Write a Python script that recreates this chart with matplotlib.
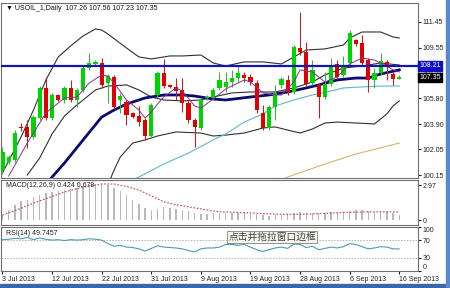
import matplotlib
matplotlib.use('Agg')
import matplotlib.pyplot as plt
from matplotlib.patches import Rectangle
import numpy as np

plt.rcParams['font.family'] = ['Liberation Sans', 'DejaVu Sans']

# daily candles, 3 Jul 2013 .. 16 Sep 2013
opens = [100.52, 101.11, 101.26, 103.70, 103.70, 102.96, 104.36, 106.58, 104.36, 106.06,
         105.69, 106.58, 105.69, 106.43, 108.05, 108.35, 108.42, 106.94, 107.39, 105.69,
         105.54, 104.73, 104.51, 104.21, 103.03, 106.06, 107.68, 106.80, 106.65, 106.43,
         105.47, 104.21, 103.62, 105.84, 105.84, 106.58, 106.65, 107.02, 107.31, 107.54,
         107.39, 106.94, 104.73, 103.62, 105.17, 106.80, 107.17, 106.28, 109.53, 109.23,
         106.94, 106.80, 105.91, 106.87, 108.35, 107.54, 108.42, 110.12, 109.90, 108.64,
         107.17, 107.68, 108.50, 107.61, 107.26]
highs = [102.22, 101.63, 103.47, 103.99, 104.21, 104.58, 106.72, 107.39, 106.21, 106.13,
         106.72, 107.17, 106.58, 108.20, 109.16, 108.64, 108.79, 107.61, 107.54, 106.21,
         105.69, 104.80, 105.25, 104.36, 105.47, 107.83, 108.72, 106.87, 107.31, 107.31,
         105.69, 104.36, 105.84, 106.06, 106.58, 107.76, 107.76, 107.91, 108.27, 107.76,
         107.61, 107.17, 105.32, 105.32, 106.80, 107.39, 107.54, 109.75, 112.19, 109.97,
         108.64, 106.94, 107.76, 108.79, 108.64, 108.94, 110.86, 110.19, 110.49, 108.79,
         108.05, 109.16, 108.64, 107.76, 107.56]
lows = [100.22, 100.96, 101.11, 103.40, 102.14, 102.81, 104.21, 104.21, 104.21, 105.62,
        105.47, 105.54, 105.17, 106.28, 107.91, 108.20, 106.58, 105.47, 105.02, 104.73,
        103.84, 104.36, 103.77, 102.74, 102.96, 105.91, 106.58, 106.58, 105.69, 104.80,
        103.99, 102.22, 103.47, 105.69, 105.69, 106.43, 106.28, 106.65, 107.02, 107.02,
        106.80, 104.73, 103.47, 103.47, 104.21, 106.58, 106.06, 106.13, 109.01, 106.72,
        106.80, 104.36, 105.76, 106.72, 107.24, 107.39, 108.27, 109.68, 108.27, 106.28,
        106.58, 107.54, 107.17, 106.80, 107.23]
closes = [101.85, 101.48, 103.25, 103.62, 102.96, 104.43, 106.58, 104.36, 106.06, 105.69,
          106.58, 105.69, 106.43, 108.05, 108.42, 108.50, 106.80, 107.46, 105.17, 105.98,
          104.58, 104.43, 104.06, 103.03, 105.32, 107.68, 106.72, 106.65, 106.35, 105.47,
          104.21, 103.70, 105.69, 105.91, 106.43, 107.17, 107.02, 107.31, 107.68, 107.31,
          107.02, 104.95, 103.62, 105.17, 106.21, 107.24, 106.28, 109.60, 109.23, 106.87,
          107.91, 105.91, 106.87, 108.13, 107.39, 108.27, 110.64, 109.83, 108.42, 107.17,
          107.68, 108.57, 108.27, 107.24, 107.35]

# indicator lines (bar index, price)
upper_idx = [0, 3, 5, 7, 9, 11, 13, 15, 16, 17, 20, 22, 24, 27, 29, 32, 34, 36, 39, 42,
             45, 47, 49, 52, 55, 56, 58, 61, 63, 64]
upper_val = [100.30, 102.96, 104.95, 107.17, 108.87, 109.68, 110.42, 110.93, 110.86, 110.56,
             109.53, 108.87, 108.72, 108.94, 108.94, 109.01, 108.42, 108.20, 108.50, 108.50,
             108.35, 108.87, 109.38, 109.46, 109.75, 110.27, 110.71, 110.71, 110.34, 110.27]
lower_idx = [17, 18, 19, 21, 23, 25, 28, 32, 34, 36, 39, 42, 44, 46, 48, 50, 52, 54, 57, 60,
             62, 63, 64]
lower_val = [99.41, 100.52, 101.48, 102.51, 102.74, 103.03, 103.33, 103.25, 103.03, 103.10,
             103.25, 103.62, 103.70, 103.47, 103.25, 103.55, 103.99, 104.06, 103.99, 103.92,
             104.66, 105.25, 105.62]
mid_idx = [4, 6, 8, 10, 12, 15, 17, 20, 22, 24, 26, 29, 32, 34, 37, 40, 44, 47, 50, 52,
           55, 58, 61, 64]
mid_val = [100.15, 101.41, 103.18, 104.51, 105.32, 106.43, 106.72, 106.80, 106.43, 105.91,
           105.69, 105.62, 105.69, 105.91, 106.21, 106.28, 106.28, 106.58, 107.02, 107.54,
           108.05, 108.20, 108.42, 108.27]
navy_idx = [7, 8, 10, 13, 16, 18, 20, 23, 26, 29, 31, 34, 36, 40, 43, 46, 49, 51, 54, 57,
            59, 61, 64]
navy_val = [99.48, 100.00, 101.04, 102.74, 104.43, 104.95, 105.39, 105.84, 106.06, 106.06,
            105.98, 105.76, 105.69, 105.91, 106.06, 106.28, 106.58, 106.80, 107.17, 107.31,
            107.31, 107.61, 107.91]
purple_idx = [1, 4, 7, 10, 12, 14, 16, 17, 18, 20, 22, 23, 24, 25, 26, 28, 29, 31, 32, 34,
              36, 39, 40, 42, 44, 45, 47, 48, 50, 52, 54, 56, 58, 60, 62, 63, 64]
purple_val = [100.07, 102.51, 104.73, 105.84, 105.91, 106.94, 107.54, 107.46, 106.94, 105.69,
              104.95, 104.36, 104.80, 105.39, 105.91, 106.58, 106.35, 105.25, 105.10, 105.76,
              106.50, 107.17, 107.02, 106.21, 106.06, 106.06, 107.02, 107.91, 107.76, 107.02,
              107.39, 108.35, 108.79, 108.64, 108.20, 107.91, 107.76]
cyan_idx = [21, 22, 26, 30, 34, 36, 39, 42, 44, 47, 50, 53, 55, 58, 61, 64]
cyan_val = [99.78, 100.00, 100.96, 101.77, 102.74, 103.18, 104.06, 104.66, 105.25, 105.69,
            106.06, 106.35, 106.58, 106.65, 106.72, 106.72]
gold_idx = [45, 46, 52, 57, 64]
gold_val = [99.78, 100.00, 100.96, 101.70, 102.51]
hline_price = 108.21

macd = [0.45, 0.88, 1.30, 1.59, 1.72, 1.93, 2.15, 2.29, 2.38, 2.44,
        2.57, 2.66, 2.72, 2.86, 3.00, 3.08, 3.06, 2.95, 2.72, 2.44,
        2.15, 1.72, 1.36, 1.02, 0.88, 0.96, 1.08, 1.02, 0.96, 0.88,
        0.74, 0.59, 0.51, 0.51, 0.57, 0.62, 0.62, 0.64, 0.62, 0.60,
        0.55, 0.50, 0.42, 0.38, 0.40, 0.45, 0.48, 0.58, 0.65, 0.62,
        0.62, 0.58, 0.60, 0.65, 0.68, 0.72, 0.80, 0.85, 0.82, 0.75,
        0.72, 0.70, 0.68, 0.58, 0.42]
sig_idx = [0, 3, 5, 8, 10, 13, 16, 18, 20, 22, 24, 26, 28, 30, 33, 35, 38, 41, 44, 47,
           50, 53, 56, 59, 62, 64]
sig_val = [0.42, 1.00, 1.44, 2.00, 2.38, 2.80, 3.06, 3.06, 2.85, 2.55, 2.05, 1.55, 1.30,
           1.13, 0.85, 0.70, 0.65, 0.58, 0.50, 0.48, 0.52, 0.60, 0.66, 0.70, 0.70, 0.68]

rsi = [71, 72, 74, 73, 76, 71, 75, 72, 70, 71,
       69, 71, 70, 71, 73, 72, 70, 62, 56, 58,
       54, 53, 50, 45, 51, 57, 54, 53, 52, 50,
       46, 43, 50, 52, 52, 54, 60, 60, 58, 60,
       54, 48, 44, 48, 52, 54, 51, 61, 60, 53,
       56, 48, 51, 54, 52, 55, 62, 60, 55, 50,
       52, 55, 54, 50, 49.75]

price_ticks = [100.15, 102.05, 103.90, 105.80, 107.70, 109.55, 111.45]
date_idx = [0, 8, 16, 24, 32, 40, 48, 56, 64]
date_labels = ['3 Jul 2013', '12 Jul 2013', '22 Jul 2013', '31 Jul 2013', '9 Aug 2013',
               '19 Aug 2013', '28 Aug 2013', '6 Sep 2013', '16 Sep 2013']

W, H = 450, 288
fig = plt.figure(figsize=(4.5, 2.88), dpi=100)


def panel(x0, y0, x1, y1):
    a = fig.add_axes([x0 / W, 1 - y1 / H, (x1 - x0) / W, (y1 - y0) / H])
    a.set_xlim(-0.24, 67.02)
    a.set_xticks([])
    a.yaxis.tick_right()
    a.tick_params(axis='y', length=2, pad=1.5, labelsize=5, colors='#202020')
    for s in a.spines.values():
        s.set_color('#707070')
        s.set_linewidth(0.8)
    return a


# ---- price panel
ax = panel(1, 3, 418, 178)
ax.set_ylim(99.93, 112.85)
o = np.array(opens); c = np.array(closes)
x = np.arange(len(o))
up = c >= o
body_col = np.where(up, '#00d400', '#e00000')
wick_col = np.where(up, '#40b040', '#b02828')
ax.vlines(x, lows, highs, colors=wick_col, lw=0.8, zorder=3)
ax.bar(x, np.maximum(np.abs(c - o), 0.05), bottom=np.minimum(o, c), width=0.7,
       color=body_col, lw=0, zorder=4)

ax.plot(upper_idx, upper_val, color='#303030', lw=0.8, zorder=2)
ax.plot(lower_idx, lower_val, color='#303030', lw=0.8, zorder=2)
ax.plot(mid_idx, mid_val, color='#303030', lw=0.8, zorder=2)
ax.plot(cyan_idx, cyan_val, color='#5cb8cc', lw=0.8, zorder=2)
ax.plot(gold_idx, gold_val, color='#d8b46a', lw=0.8, zorder=2)
ax.plot(navy_idx, navy_val, color='#0a0a70', lw=2.0, zorder=2)
ax.plot(purple_idx, purple_val, color='#8a3090', lw=0.7, zorder=5)
ax.axhline(hline_price, color='#1515b0', lw=1.6, zorder=5)

ax.set_yticks(price_ticks)
ax.set_yticklabels([f'{v:.2f}' for v in price_ticks])
ax.text(1.003, hline_price, f'{hline_price:.2f}', transform=ax.get_yaxis_transform(),
        ha='left', va='center', fontsize=5, color='white', zorder=6,
        bbox=dict(boxstyle='square,pad=0.2', fc='#1010c0', ec='#1010c0'))
ax.text(1.003, closes[-1], f'{closes[-1]:.2f}', transform=ax.get_yaxis_transform(),
        ha='left', va='center', fontsize=5, color='white', zorder=7,
        bbox=dict(boxstyle='square,pad=0.2', fc='black', ec='black'))
ax.text(0.012, 0.966, '▼ USOIL_1,Daily  %.2f %.2f %.2f %.2f'
        % (opens[-1], highs[-1], lows[-1], closes[-1]),
        transform=ax.transAxes, fontsize=5, va='center', color='#101010')

# ---- MACD panel
ax2 = panel(1, 180, 418, 225)
ax2.set_ylim(-0.42, 3.40)
ax2.bar(x, macd, width=0.22, color='#b8b8b8', lw=0)
ax2.plot(sig_idx, sig_val, color='#c04848', lw=0.8, ls=(0, (1.5, 1.5)))
ax2.set_yticks([0, 2.97])
ax2.set_yticklabels(['0', '2.97'])
ax2.text(0.012, 0.88, 'MACD(12,26,9) 0.424 0.678', transform=ax2.transAxes,
         fontsize=5, va='center', color='#202020')

# ---- RSI panel
ax3 = panel(1, 227, 418, 271)
ax3.set_ylim(-0.7, 100)
for lvl in (30, 70):
    ax3.axhline(lvl, color='#b0b0b0', lw=0.7, ls=(0, (1.5, 1.5)))
ax3.plot(x, rsi, color='#4a9cb4', lw=0.8)
ax3.set_yticks([0, 30, 70, 100])
ax3.set_yticklabels(['0', '30', '70', '100'])
tl = ax3.get_yticklabels()
tl[0].set_va('bottom'); tl[-1].set_va('top')
ax3.set_xticks(date_idx)
ax3.set_xticklabels(date_labels, ha='left')
ax3.tick_params(axis='x', length=2, pad=1.5, labelsize=5, colors='#202020')
ax3.text(0.012, 0.86, 'RSI(14) 49.7457', transform=ax3.transAxes,
         fontsize=5, va='center', color='#202020')

fig.text(272 / W, 1 - 237 / H, '点击并拖拉窗口边框', fontsize=7,
         family=['Noto Sans CJK SC', 'DejaVu Sans'], ha='center', va='center',
         color='#404040', zorder=10,
         bbox=dict(boxstyle='square,pad=0.15', fc='#f6f6ee', ec='#808080', lw=0.6))

# window frame
fig.patches.append(Rectangle((0, 0), 1, 4 / H, transform=fig.transFigure,
                             color='#3868a8', zorder=0))
fig.patches.append(Rectangle((446 / W, 0), 4 / W, 1, transform=fig.transFigure,
                             color='#5a88c8', zorder=0))

fig.savefig('out.png', dpi=100)
